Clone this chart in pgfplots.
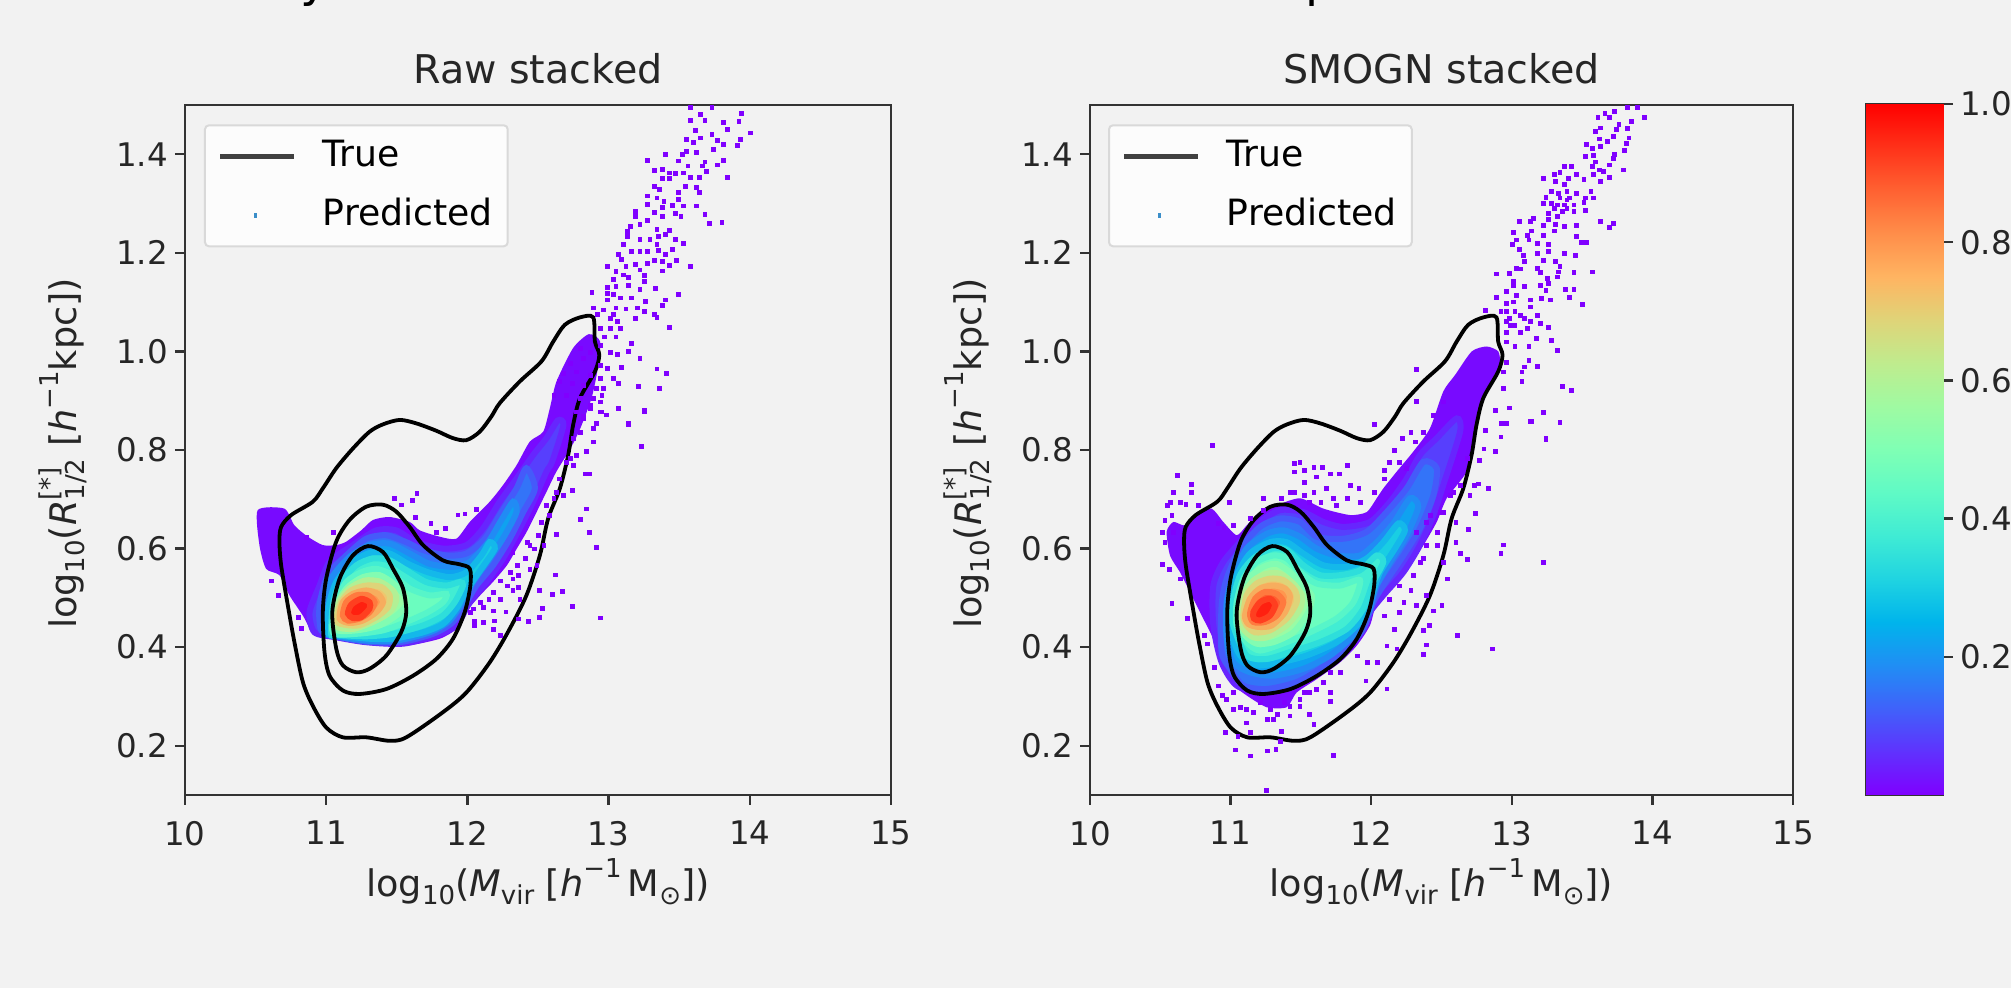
\documentclass[border=0pt]{standalone}
\usepackage{fontspec}
\setmainfont{DejaVu Sans}
\usepackage{pgfplots}
\usepackage{pgfplotstable}
\pgfplotsset{compat=1.18}
\definecolor{bg}{HTML}{F2F2F2}
\definecolor{axc}{HTML}{333333}
\definecolor{spk}{rgb}{.5,0,1}
\definecolor{la}{rgb}{.47,.04,1}
\definecolor{lb}{rgb}{.34,.249,.992}
\definecolor{lc}{rgb}{.2,.454,.972}
\definecolor{ld}{rgb}{.06,.637,.941}
\definecolor{le}{rgb}{.1,.809,.891}
\definecolor{lf}{rgb}{.26,.930,.827}
\definecolor{lg}{rgb}{.42,.992,.750}
\definecolor{lh}{rgb}{.6,.988,.649}
\definecolor{li}{rgb}{.8,.891,.522}
\definecolor{lj}{rgb}{.94,.771,.426}
\definecolor{lk}{rgb}{1,.588,.309}
\definecolor{ll}{rgb}{1,.368,.187}
\definecolor{lm}{rgb}{1,.125,.063}
\definecolor{ldot}{HTML}{3B8EC9}
\newcommand\subs[1]{\raisebox{-0.22em}{\fontsize{13}{14}\selectfont #1}}
\newcommand\sups[1]{\raisebox{0.5em}{\fontsize{13}{14}\selectfont #1}}
\pgfplotstableread{
10.669 .614
10.681 .644
10.752 .668
10.905 .695
10.976 .722
11.071 .763
11.189 .803
11.307 .837
11.402 .852
11.520 .861
11.638 .854
11.780 .839
11.898 .824
11.993 .820
12.087 .837
12.170 .868
12.229 .895
12.371 .939
12.525 .980
12.608 1.020
12.690 1.054
12.797 1.069
12.891 1.069
12.903 1.020
12.934 .993
12.903 .959
12.797 .905
12.749 .851
12.714 .790
12.655 .722
12.572 .661
12.513 .586
12.418 .505
12.288 .431
12.158 .369
11.993 .308
11.827 .268
11.567 .217
11.449 .210
11.284 .217
11.118 .217
11.000 .237
10.905 .281
10.835 .329
10.775 .410
10.728 .485
10.681 .566
}\contA
\pgfplotstableread{
10.976 .471
11.000 .539
11.071 .614
11.165 .658
11.284 .685
11.402 .689
11.496 .675
11.591 .644
11.686 .607
11.827 .576
11.946 .568
12.017 .559
12.021 .525
11.981 .471
11.898 .417
11.780 .376
11.615 .342
11.426 .315
11.236 .305
11.118 .312
11.024 .342
10.988 .390
}\contB
\pgfplotstableread{
11.043 .471
11.095 .539
11.189 .586
11.296 .605
11.402 .593
11.473 .559
11.544 .519
11.567 .471
11.532 .431
11.426 .383
11.307 .356
11.213 .349
11.118 .363
11.071 .397
}\contC
\pgfplotsset{
 colormap={mpl}{rgb=(.5,0,1) rgb=(.375,.195,.995) rgb=(.25,.383,.981) rgb=(.125,.556,.957) rgb=(0,.707,.924) rgb=(.125,.831,.882) rgb=(.25,.924,.831) rgb=(.375,.981,.773) rgb=(.5,1,.707) rgb=(.625,.981,.634) rgb=(.75,.924,.556) rgb=(.875,.831,.471) rgb=(1,.707,.383) rgb=(1,.556,.290) rgb=(1,.383,.195) rgb=(1,.195,.098) rgb=(1,0,0)},
 colormap name=mpl,
 band/.style 2 args={forget plot,no markers,smooth cycle,tension=.45,fill=#1,draw=#1!50!#2,line width=3pt},
 env/.style={forget plot,no markers,smooth cycle,tension=.4,fill=la,draw=none},
 spec/.style={forget plot,only marks,color=spk,mark=square*,mark size=.95pt,mark options={solid,fill=spk,draw=spk,line width=.1pt}},
 tru/.style={forget plot,no markers,smooth cycle,tension=.5,black,line width=1.9pt},
 panel/.style={scale only axis,anchor=south west,height=345pt,xmin=10,xmax=15,ymin=.1,ymax=1.5,
  xtick={10,11,12,13,14,15},xticklabels={10,11,12,13,14,15},
  ytick={.2,.4,.6,.8,1.0,1.2,1.4},yticklabels={0.2,0.4,0.6,0.8,1.0,1.2,1.4},
  tick align=outside,tick pos=left,major tick length=5pt,
  every tick/.style={color=axc,line width=1.2pt},
  axis line style={color=axc,line width=1.4pt},
  ticklabel style={font=\fontsize{16.25}{18}\selectfont,text=black!85},
  xticklabel style={yshift=-4.5pt},
  label style={font=\fontsize{18.3}{22}\selectfont,text=black!85},
  title style={font=\fontsize{19.8}{22}\selectfont,text=black!85,yshift=1pt},
  xlabel={log\subs{10}(\textit{M}\subs{vir} [\textit{h}\sups{−1}\,M\subs{⊙}])},
  ylabel={log\subs{10}(\textit{R}\rlap{\sups{[*]}}\subs{1/2} [\textit{h}\sups{−1}kpc])},
  xlabel style={at={(axis description cs:.5,-.0825)},anchor=north},
  ylabel style={at={(axis description cs:-.129,.495)},anchor=south},
  legend cell align=left,
  legend style={anchor=north west,fill=white,fill opacity=.8,text opacity=1,draw=black!15,line width=1pt,rounded corners=2pt,
    font=\fontsize{18.1}{20}\selectfont,row sep=10.5pt,inner xsep=6.5pt,inner ysep=6pt,
    nodes={inner sep=1pt,text height=13.5pt,text depth=3.5pt},
    /tikz/every odd column/.append style={column sep=12pt}},
 },
 lgline/.style={legend image code/.code={\draw[line width=2.4pt,color=black!75] (0,0) -- (37pt,0);}},
 lgdot/.style={legend image code/.code={\draw[line width=1.7pt,color=ldot] (17.5pt,-1.2pt) -- (17.5pt,1.2pt);}},
}
\begin{document}
\begin{tikzpicture}
\path[use as bounding box,fill=bg] (0,0) rectangle (1005.5pt,494pt);
\node[anchor=base west,inner sep=0,font=\fontsize{24}{26}\selectfont] at (150pt,495.5pt) {y};
\node[anchor=base west,inner sep=0,font=\fontsize{24}{26}\selectfont] at (652.5pt,495.5pt) {p};
% ---------- Raw stacked
\begin{axis}[panel,at={(92.5pt,96.5pt)},width=353pt,title={Raw stacked},legend style={at={(.0269,.972)}}]
\addlegendimage{lgline}\addlegendentry{True}
\addlegendimage{lgdot}\addlegendentry{Predicted}
\addplot[env] coordinates {(10.515,.678)(10.704,.681)(10.775,.647)(10.870,.624)(10.976,.607)(11.071,.607)(11.142,.614)(11.248,.637)(11.331,.658)(11.449,.664)(11.591,.654)(11.662,.637)(11.804,.624)(11.922,.620)(12.017,.654)(12.158,.695)(12.253,.729)(12.348,.769)(12.442,.817)(12.537,.837)(12.584,.885)(12.631,.939)(12.749,1.007)(12.86,1.035)(12.94,1.02)(12.92,.96)(12.879,.905)(12.80,.844)(12.73,.803)(12.63,.756)(12.56,.715)(12.49,.674)(12.42,.634)(12.35,.600)(12.28,.566)(12.18,.532)(12.09,.505)(11.99,.471)(11.922,.437)(11.804,.417)(11.567,.403)(11.284,.407)(11.071,.417)(10.905,.431)(10.835,.464)(10.740,.505)(10.669,.546)(10.574,.559)(10.527,.607)};
\addplot[band={lb}{la}] coordinates {(10.917,.430)(10.882,.471)(10.953,.525)(11.024,.573)(11.189,.607)(11.355,.637)(11.496,.637)(11.638,.613)(11.827,.600)(11.993,.607)(12.111,.641)(12.229,.695)(12.348,.742)(12.466,.790)(12.560,.824)(12.64,.86)(12.68,.85)(12.60,.776)(12.560,.756)(12.466,.695)(12.371,.641)(12.253,.580)(12.135,.532)(12.017,.491)(11.922,.444)(11.780,.424)(11.544,.407)(11.284,.410)(11.071,.420)};
\addplot[band={lc}{lb}] coordinates {(10.965,.434)(10.953,.485)(11.012,.546)(11.142,.586)(11.284,.620)(11.426,.627)(11.567,.613)(11.686,.597)(11.851,.586)(11.993,.590)(12.123,.620)(12.229,.668)(12.348,.722)(12.418,.763)(12.478,.722)(12.395,.674)(12.300,.620)(12.182,.566)(12.064,.525)(11.993,.491)(11.898,.451)(11.756,.427)(11.520,.410)(11.284,.411)(11.071,.422)};
\addplot[band={ld}{lc}] coordinates {(10.988,.430)(10.988,.485)(11.035,.539)(11.165,.583)(11.307,.607)(11.449,.610)(11.591,.590)(11.733,.569)(11.898,.563)(12.017,.573)(12.147,.613)(12.241,.658)(12.324,.695)(12.348,.674)(12.265,.627)(12.158,.580)(12.040,.532)(11.981,.498)(11.875,.454)(11.733,.430)(11.496,.413)(11.296,.413)(11.071,.422)};
\addplot[band={le}{ld}] coordinates {(11.012,.430)(11.019,.485)(11.071,.532)(11.189,.573)(11.319,.592)(11.449,.590)(11.579,.569)(11.721,.552)(11.875,.542)(11.993,.552)(12.099,.586)(12.158,.613)(12.194,.600)(12.099,.559)(11.993,.515)(11.922,.478)(11.827,.447)(11.686,.430)(11.473,.417)(11.307,.417)(11.071,.424)};
\addplot[band={lf}{le}] coordinates {(11.035,.427)(11.047,.485)(11.095,.529)(11.213,.566)(11.331,.580)(11.449,.576)(11.567,.556)(11.709,.532)(11.851,.525)(11.946,.532)(11.969,.525)(11.910,.491)(11.827,.464)(11.686,.444)(11.473,.427)(11.284,.422)(11.071,.425)};
\addplot[band={lg}{lf}] coordinates {(11.047,.430)(11.071,.491)(11.142,.532)(11.248,.552)(11.355,.559)(11.473,.546)(11.591,.519)(11.733,.505)(11.851,.508)(11.827,.491)(11.721,.471)(11.567,.451)(11.402,.434)(11.213,.427)};
\addplot[band={lh}{lg}] coordinates {(11.059,.437)(11.083,.491)(11.154,.522)(11.260,.542)(11.378,.546)(11.473,.529)(11.556,.505)(11.567,.485)(11.496,.464)(11.378,.444)(11.213,.434)};
\addplot[band={li}{lh}] coordinates {(11.066,.444)(11.090,.491)(11.165,.519)(11.272,.535)(11.378,.533)(11.473,.515)(11.496,.495)(11.449,.471)(11.331,.451)(11.189,.437)};
\addplot[band={lj}{li}] coordinates {(11.078,.451)(11.106,.491)(11.177,.515)(11.284,.525)(11.390,.522)(11.449,.505)(11.437,.481)(11.355,.461)(11.225,.444)};
\addplot[band={lk}{lj}] coordinates {(11.095,.458)(11.118,.491)(11.189,.508)(11.284,.515)(11.366,.508)(11.402,.491)(11.355,.471)(11.260,.454)(11.165,.449)};
\addplot[band={ll}{lk}] coordinates {(11.118,.464)(11.142,.491)(11.213,.505)(11.296,.505)(11.343,.491)(11.307,.471)(11.236,.458)(11.154,.454)};
\addplot[band={lm}{ll}] coordinates {(11.154,.468)(11.177,.486)(11.248,.498)(11.307,.491)(11.307,.478)(11.248,.461)(11.189,.459)};
\addplot[spec] table[row sep=\\] {
13.58 1.495\\13.73 1.495\\13.94 1.483\\13.65 1.481\\13.58 1.470\\13.68 1.470\\13.92 1.468\\13.81 1.465\\13.84 1.451\\13.61 1.449\\13.73 1.441\\14.00 1.444\\13.55 1.431\\13.65 1.434\\13.93 1.431\\13.77 1.428\\13.60 1.424\\13.81 1.421\\13.91 1.419\\13.74 1.411\\13.55 1.407\\13.62 1.404\\13.52 1.400\\13.40 1.400\\13.27 1.388\\13.49 1.387\\13.68 1.385\\13.81 1.388\\13.56 1.377\\13.66 1.377\\13.77 1.379\\13.69 1.366\\13.32 1.368\\13.38 1.370\\13.43 1.363\\13.53 1.363\\13.47 1.361\\13.38 1.352\\13.43 1.352\\13.58 1.354\\13.64 1.354\\13.84 1.353\\13.32 1.336\\13.36 1.329\\13.54 1.336\\13.62 1.333\\13.49 1.324\\13.64 1.324\\13.27 1.316\\13.34 1.312\\13.39 1.305\\13.49 1.309\\13.27 1.299\\13.38 1.293\\13.45 1.297\\13.53 1.296\\13.62 1.296\\13.32 1.282\\13.19 1.285\\13.19 1.275\\13.47 1.280\\13.51 1.275\\13.38 1.275\\13.68 1.278\\13.27 1.266\\13.22 1.258\\13.71 1.261\\13.80 1.263\\13.15 1.255\\13.13 1.244\\13.34 1.248\\13.43 1.246\\13.13 1.234\\13.22 1.228\\13.29 1.228\\13.35 1.234\\13.40 1.238\\13.47 1.228\\13.10 1.217\\13.34 1.217\\13.53 1.219\\13.45 1.207\\13.07 1.198\\13.16 1.204\\13.22 1.204\\13.27 1.204\\13.35 1.205\\13.40 1.198\\13.09 1.187\\13.32 1.185\\13.38 1.183\\13.48 1.185\\12.99 1.173\\13.12 1.173\\13.19 1.177\\13.27 1.180\\13.43 1.175\\13.58 1.173\\13.38 1.164\\13.05 1.163\\13.10 1.156\\13.22 1.166\\13.03 1.146\\13.14 1.150\\13.25 1.155\\13.25 1.143\\12.99 1.131\\13.05 1.133\\13.14 1.135\\13.33 1.129\\12.88 1.121\\12.99 1.119\\13.03 1.117\\13.22 1.126\\13.49 1.116\\12.99 1.105\\13.08 1.109\\13.16 1.109\\13.26 1.102\\13.40 1.105\\13.38 1.094\\12.89 1.089\\12.96 1.085\\13.05 1.089\\13.12 1.087\\13.20 1.089\\13.25 1.082\\13.32 1.075\\13.34 1.070\\12.92 1.075\\13.03 1.075\\13.19 1.068\\13.43 1.049\\13.16 1.017\\13.06 .994\\13.22 .987\\13.14 1.000\\13.09 .968\\13.34 .965\\13.41 .956\\13.07 .936\\13.21 .929\\13.36 .926\\13.07 .885\\13.25 .882\\12.98 .872\\13.14 .855\\13.07 .885\\13.25 .879\\13.14 .852\\13.23 .808\\12.83 .752\\12.86 .752\\12.74 .719\\12.84 .681\\12.80 .660\\12.63 .630\\12.86 .634\\12.91 .603\\12.62 .547\\12.51 .515\\12.60 .508\\12.67 .514\\12.74 .483\\12.94 .460\\12.53 .479\\12.51 .461\\12.43 .453\\12.36 .458\\12.36 .522\\12.37 .498\\12.23 .424\\12.18 .437\\12.11 .451\\12.05 .454\\12.05 .444\\12.19 .454\\12.27 .472\\12.18 .474\\12.11 .481\\12.04 .478\\11.64 .712\\11.61 .698\\11.48 .702\\11.53 .689\\11.05 .634\\10.86 .624\\10.80 .461\\10.82 .439\\10.66 .506\\10.61 .535\\11.93 .669\\11.98 .671\\12.06 .680\\11.63 .664\\11.74 .652\\11.84 .641\\11.78 .634\\12.89 .817\\12.84 .797\\12.77 .790\\12.80 .837\\12.89 .844\\12.94 .898\\12.95 .878\\12.87 .891\\12.75 .769\\12.73 .783\\12.68 .708\\12.58 .668\\12.54 .607\\12.49 .566\\12.44 .559\\12.36 .546\\12.32 .539\\12.28 .525\\12.23 .498\\12.47 .600\\12.42 .613\\12.32 .593\\12.75 .824\\12.82 .864\\12.77 .878\\12.70 .776\\12.65 .742\\12.63 .715\\12.56 .688\\12.61 .702\\12.52 .654\\12.50 .627\\12.44 .607\\12.41 .580\\12.35 .566\\12.30 .552\\12.23 .535\\12.18 .512\\12.32 .515\\12.09 .491\\12.15 .498\\12.02 .471\\12.94 1.047\\13.01 1.047\\13.08 1.047\\12.97 1.030\\13.05 1.030\\12.94 1.013\\13.01 .999\\12.87 .999\\12.80 1.006\\12.82 .986\\12.73 .976\\12.94 .973\\12.99 .966\\12.77 .959\\12.68 .956\\12.87 .952\\12.94 .946\\13.03 .946\\12.65 .939\\12.74 .935\\12.82 .932\\12.91 .925\\12.96 .925\\12.61 .912\\12.70 .912\\12.80 .905\\12.89 .905\\12.94 .898\\12.95 .912\\12.87 .885\\12.94 .878\\12.82 .868\\12.91 .854\\13.01 1.068\\13.06 1.061\\
};
\addplot[tru] table {\contA};
\addplot[tru] table {\contB};
\addplot[tru] table {\contC};
\end{axis}
% ---------- SMOGN stacked
\begin{axis}[panel,at={(545pt,96.5pt)},width=351.5pt,title={SMOGN stacked},legend style={at={(.0256,.972)}}]
\addlegendimage{lgline}\addlegendentry{True}
\addlegendimage{lgdot}\addlegendentry{Predicted}
\addplot[env] coordinates {(10.593,.654)(10.676,.647)(10.759,.671)(10.865,.681)(10.948,.654)(11.043,.627)(11.114,.647)(11.209,.674)(11.328,.688)(11.494,.702)(11.660,.681)(11.849,.668)(11.968,.674)(12.039,.702)(12.086,.722)(12.181,.756)(12.300,.797)(12.418,.844)(12.513,.919)(12.596,.952)(12.715,1.000)(12.821,1.010)(12.904,1.000)(12.916,.973)(12.869,.939)(12.798,.905)(12.762,.864)(12.726,.817)(12.679,.756)(12.537,.702)(12.466,.654)(12.371,.607)(12.252,.559)(12.134,.519)(12.039,.490)(11.991,.444)(11.897,.403)(11.778,.369)(11.612,.335)(11.470,.308)(11.399,.278)(11.257,.278)(11.114,.302)(10.996,.329)(10.936,.369)(10.877,.417)(10.782,.471)(10.699,.519)(10.640,.552)(10.569,.586)(10.545,.634)};
\addplot[band={lb}{la}] coordinates {(10.936,.369)(10.877,.444)(10.877,.525)(10.948,.573)(11.067,.613)(11.209,.654)(11.351,.678)(11.517,.674)(11.660,.654)(11.802,.644)(11.991,.654)(12.134,.695)(12.252,.742)(12.347,.790)(12.466,.824)(12.608,.864)(12.632,.837)(12.513,.729)(12.442,.668)(12.347,.607)(12.229,.552)(12.086,.505)(11.991,.471)(11.920,.430)(11.802,.390)(11.612,.349)(11.422,.322)(11.233,.308)(11.043,.322)};
\addplot[band={lc}{lb}] coordinates {(10.936,.390)(10.936,.485)(10.972,.539)(11.067,.600)(11.209,.644)(11.351,.661)(11.494,.654)(11.612,.624)(11.802,.620)(11.968,.634)(12.110,.674)(12.252,.722)(12.371,.776)(12.466,.763)(12.442,.708)(12.347,.641)(12.229,.586)(12.086,.525)(12.015,.491)(11.944,.437)(11.826,.397)(11.636,.356)(11.470,.329)(11.257,.315)(11.091,.322)(10.996,.356)};
\addplot[band={ld}{lc}] coordinates {(10.972,.417)(10.972,.491)(11.019,.546)(11.114,.600)(11.257,.630)(11.375,.637)(11.494,.624)(11.612,.600)(11.754,.586)(11.920,.586)(12.039,.613)(12.157,.651)(12.276,.702)(12.335,.685)(12.252,.627)(12.134,.573)(12.039,.525)(11.980,.471)(11.873,.424)(11.707,.383)(11.517,.356)(11.304,.342)(11.138,.349)(11.019,.369)};
\addplot[band={le}{ld}] coordinates {(10.996,.437)(10.991,.498)(11.043,.546)(11.138,.590)(11.280,.613)(11.399,.613)(11.517,.590)(11.660,.566)(11.826,.563)(11.968,.580)(12.086,.613)(12.193,.651)(12.240,.637)(12.169,.600)(12.063,.552)(12.003,.505)(11.920,.451)(11.754,.410)(11.541,.383)(11.351,.369)(11.185,.363)(11.067,.383)};
\addplot[band={lf}{le}] coordinates {(11.019,.444)(11.015,.491)(11.067,.546)(11.162,.580)(11.292,.600)(11.399,.597)(11.517,.566)(11.636,.546)(11.778,.546)(11.920,.556)(12.039,.586)(12.086,.573)(12.015,.532)(11.944,.478)(11.826,.437)(11.636,.410)(11.422,.390)(11.257,.376)(11.114,.383)};
\addplot[band={lg}{lf}] coordinates {(11.043,.444)(11.043,.491)(11.091,.539)(11.185,.573)(11.304,.586)(11.399,.580)(11.494,.552)(11.612,.529)(11.778,.525)(11.920,.536)(11.873,.491)(11.754,.458)(11.565,.430)(11.399,.410)(11.209,.393)(11.114,.410)};
\addplot[band={lh}{lg}] coordinates {(11.060,.451)(11.067,.498)(11.126,.539)(11.233,.563)(11.328,.569)(11.422,.552)(11.494,.529)(11.577,.505)(11.553,.471)(11.446,.430)(11.304,.410)(11.185,.407)(11.102,.424)};
\addplot[band={li}{lh}] coordinates {(11.072,.464)(11.091,.505)(11.162,.535)(11.257,.549)(11.351,.549)(11.446,.529)(11.505,.505)(11.494,.478)(11.399,.444)(11.257,.420)(11.162,.420)(11.091,.437)};
\addplot[band={lj}{li}] coordinates {(11.091,.464)(11.114,.505)(11.185,.529)(11.280,.539)(11.375,.536)(11.458,.515)(11.470,.491)(11.399,.458)(11.280,.434)(11.174,.430)(11.114,.444)};
\addplot[band={lk}{lj}] coordinates {(11.102,.464)(11.138,.498)(11.209,.519)(11.304,.525)(11.387,.519)(11.422,.502)(11.387,.471)(11.292,.444)(11.197,.441)(11.126,.447)};
\addplot[band={ll}{lk}] coordinates {(11.138,.468)(11.174,.498)(11.245,.512)(11.328,.508)(11.375,.491)(11.328,.464)(11.245,.451)(11.162,.451)};
\addplot[band={lm}{ll}] coordinates {(11.162,.471)(11.209,.491)(11.280,.498)(11.316,.485)(11.280,.464)(11.209,.454)(11.166,.458)};
\addplot[spec] table[row sep=\\] {
13.89 1.496\\13.82 1.495\\13.94 1.476\\13.73 1.487\\13.66 1.484\\13.61 1.476\\13.69 1.476\\13.85 1.468\\13.76 1.461\\13.82 1.453\\13.63 1.454\\13.59 1.447\\13.74 1.451\\13.83 1.434\\13.62 1.432\\13.68 1.427\\13.72 1.437\\13.81 1.423\\13.53 1.420\\13.57 1.413\\13.63 1.417\\13.80 1.408\\13.73 1.400\\13.52 1.396\\13.58 1.398\\13.72 1.393\\13.59 1.385\\13.69 1.379\\13.79 1.369\\13.57 1.376\\13.62 1.369\\13.65 1.366\\13.37 1.376\\13.42 1.376\\13.34 1.364\\13.69 1.354\\13.58 1.359\\13.63 1.345\\13.22 1.352\\13.30 1.359\\13.40 1.352\\13.31 1.345\\13.51 1.349\\13.46 1.359\\13.37 1.340\\13.56 1.325\\13.28 1.325\\13.33 1.322\\13.39 1.325\\13.46 1.322\\13.24 1.313\\13.34 1.312\\13.39 1.308\\13.52 1.312\\13.58 1.312\\13.22 1.301\\13.28 1.301\\13.37 1.298\\13.44 1.298\\13.51 1.303\\13.36 1.284\\13.44 1.284\\13.52 1.286\\13.26 1.281\\13.32 1.274\\13.15 1.271\\13.05 1.265\\13.13 1.265\\13.26 1.268\\13.63 1.265\\13.22 1.257\\13.31 1.259\\13.37 1.254\\13.46 1.257\\13.72 1.261\\13.69 1.252\\13.30 1.245\\13.14 1.245\\13.01 1.242\\13.11 1.236\\13.22 1.236\\13.46 1.234\\13.03 1.227\\13.12 1.227\\13.00 1.217\\13.18 1.220\\13.26 1.217\\13.49 1.222\\13.53 1.222\\13.05 1.207\\13.26 1.203\\13.37 1.200\\13.45 1.196\\13.08 1.196\\13.18 1.200\\13.09 1.183\\13.22 1.186\\13.31 1.183\\13.03 1.169\\13.18 1.169\\13.34 1.173\\12.89 1.158\\12.98 1.159\\13.06 1.168\\13.20 1.161\\13.33 1.162\\13.44 1.161\\13.57 1.162\\13.01 1.143\\13.25 1.149\\13.32 1.152\\13.01 1.135\\13.09 1.132\\13.20 1.135\\13.26 1.139\\12.96 1.122\\13.24 1.125\\13.38 1.127\\13.44 1.127\\13.03 1.115\\12.89 1.110\\13.21 1.108\\13.27 1.105\\13.13 1.105\\13.41 1.110\\13.50 1.096\\12.96 1.098\\13.13 1.091\\12.81 1.084\\12.92 1.081\\13.02 1.081\\13.18 1.074\\12.98 1.068\\13.09 1.068\\13.02 1.054\\13.20 1.057\\13.26 1.049\\13.11 1.047\\12.96 1.040\\13.17 1.027\\13.28 1.023\\12.96 1.020\\13.12 1.010\\13.32 1.003\\13.02 1.010\\12.96 .979\\13.12 .983\\13.09 .969\\13.18 .971\\13.07 .959\\13.07 .940\\13.36 .929\\13.42 .922\\12.98 .886\\13.22 .876\\13.14 .859\\13.34 .856\\12.96 .854\\13.24 .825\\12.94 .925\\12.94 .959\\12.32 .964\\12.32 .899\\13.30 1.291\\13.39 1.291\\13.32 1.298\\13.41 1.312\\12.96 1.081\\13.06 1.074\\12.99 1.054\\13.06 1.040\\13.13 1.061\\13.01 1.101\\12.96 1.061\\10.87 .810\\10.62 .749\\10.72 .730\\10.72 .715\\10.59 .715\\10.57 .695\\10.55 .688\\10.64 .695\\10.68 .691\\10.77 .688\\10.99 .695\\11.23 .702\\11.36 .702\\11.45 .715\\10.58 .668\\10.53 .658\\10.51 .634\\10.53 .613\\10.59 .634\\10.91 .651\\10.95 .644\\11.02 .647\\11.14 .661\\11.23 .678\\11.45 .773\\11.49 .776\\11.45 .756\\11.52 .759\\11.59 .766\\11.65 .766\\11.83 .769\\11.61 .746\\11.71 .752\\11.77 .752\\11.52 .735\\11.42 .715\\11.52 .708\\11.59 .715\\11.68 .722\\11.85 .729\\11.91 .722\\12.02 .715\\11.73 .702\\11.83 .702\\11.92 .695\\11.75 .688\\11.64 .695\\11.56 .695\\12.09 .759\\12.13 .776\\12.20 .776\\12.16 .800\\12.28 .837\\12.31 .817\\12.02 .852\\12.22 .824\\12.37 .837\\12.32 .898\\12.44 .871\\12.51 .898\\12.25 .763\\12.09 .742\\10.51 .569\\10.56 .559\\10.64 .539\\10.58 .490\\10.69 .459\\10.81 .425\\10.83 .407\\10.88 .359\\10.91 .322\\10.94 .302\\11.02 .274\\11.11 .247\\10.96 .227\\11.05 .220\\11.14 .227\\11.26 .254\\11.36 .230\\11.35 .210\\11.03 .192\\11.26 .190\\11.32 .193\\11.14 .180\\11.25 .110\\11.73 .181\\11.28 .274\\11.42 .261\\11.56 .264\\11.59 .244\\11.52 .308\\11.61 .315\\11.71 .308\\11.71 .291\\11.78 .349\\11.71 .349\\11.90 .383\\11.97 .369\\12.04 .369\\11.96 .332\\12.11 .403\\12.18 .397\\12.11 .316\\12.37 .386\\12.39 .405\\12.37 .434\\12.41 .444\\12.09 .464\\12.16 .437\\12.20 .471\\12.44 .474\\12.50 .485\\12.32 .485\\12.28 .515\\12.39 .505\\12.23 .491\\12.61 .425\\12.86 .397\\13.22 .573\\12.92 .590\\12.94 .608\\12.68 .578\\12.63 .590\\12.60 .613\\12.69 .639\\12.74 .672\\12.83 .722\\12.73 .729\\12.70 .708\\12.60 .654\\12.54 .539\\12.51 .573\\12.35 .573\\12.32 .634\\12.39 .654\\12.47 .607\\12.49 .674\\12.58 .715\\12.63 .729\\12.80 .803\\12.88 .797\\12.95 .854\\12.88 .881\\12.98 .886\\13.13 .859\\13.22 .877\\13.34 .856\\13.24 .822\\12.92 .827\\12.77 .780\\12.68 .783\\12.81 .841\\12.92 .854\\12.76 .732\\12.39 .607\\12.42 .668\\10.97 .295\\11.07 .278\\11.16 .268\\11.21 .288\\11.33 .264\\11.42 .281\\11.49 .295\\11.56 .308\\11.66 .329\\11.11 .274\\11.02 .308\\11.38 .288\\11.30 .254\\11.49 .281\\12.47 .634\\12.37 .580\\12.30 .546\\12.20 .525\\12.13 .498\\12.51 .674\\12.56 .708\\
};
\addplot[tru] table {\contA};
\addplot[tru] table {\contB};
\addplot[tru] table {\contC};
\end{axis}
% ---------- colour bar
\begin{axis}[scale only axis,anchor=south west,at={(933pt,96.5pt)},width=38.5pt,height=345.5pt,
 xmin=0,xmax=1,ymin=0,ymax=1,xtick=\empty,ytick={.2,.4,.6,.8,1},yticklabels={0.2,0.4,0.6,0.8,1.0},
 tick align=outside,ytick pos=right,major tick length=5pt,point meta min=0,point meta max=1,
 every tick/.style={color=axc,line width=1.2pt},axis line style={color=axc,line width=1.4pt},
 ticklabel style={font=\fontsize{16.25}{18}\selectfont,text=black!85}]
\addplot[surf,shader=interp,point meta=y] coordinates {
(0,0) (1,0)

(0,.25) (1,.25)

(0,.5) (1,.5)

(0,.75) (1,.75)

(0,1) (1,1)
};
\end{axis}
\end{tikzpicture}
\end{document}
